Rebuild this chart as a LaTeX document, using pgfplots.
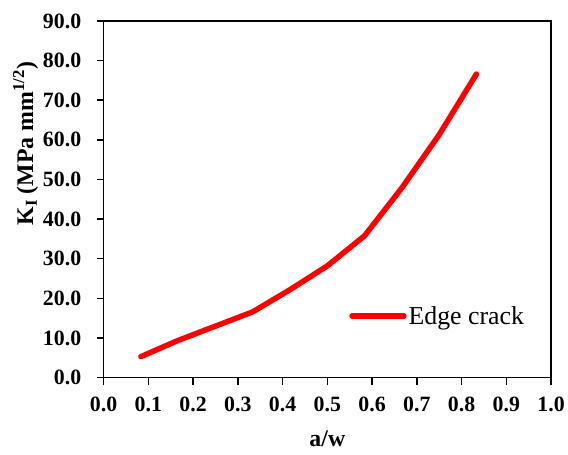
\documentclass[border=0pt]{standalone}
\usepackage{pgfplots}
\pgfplotsset{compat=1.18}
\usepackage{fontspec}
\setmainfont{Liberation Serif}
\begin{document}
\begin{tikzpicture}
\begin{axis}[
  name=ax,
  scale only axis,
  width=449bp, height=358bp,
  xmin=0, xmax=1, ymin=0, ymax=90,
  xtick={0,0.1,...,1.0}, ytick={0,10,...,90},
  axis line style={line width=1.5bp},
  tick style={line width=1.5bp, black},
  tick align=outside,
  major tick length=7bp,
  xtick pos=bottom, ytick pos=left,
  /pgf/number format/assume math mode=true,
  /pgf/number format/.cd, fixed, fixed zerofill, precision=1, /pgfplots/.cd,
  ticklabel style={font=\bfseries\fontsize{22}{24}\selectfont},
  xticklabel style={yshift=-9bp},
  yticklabel style={xshift=-12bp},
  xlabel={a/w},
  ylabel={K\textsubscript{I} (MPa mm\textsuperscript{1/2})},
  label style={font=\bfseries\fontsize{24}{26}\selectfont},
  xlabel style={yshift=-12bp},
  ylabel style={at={(ticklabel cs:0.656)}, anchor=south, yshift=-2bp},
  legend style={draw=none, fill=none, at={(rel axis cs:0.542,0.173)}, anchor=west,
    font=\fontsize{26}{28}\selectfont},
  legend image code/.code={\draw[#1, line width=5.5bp] (0bp,0bp) -- (52bp,0bp);},
]
\addplot[red, line width=5.5bp, line join=round, line cap=round] coordinates {
  (0.0833,5.3) (0.1667,9.4) (0.25,13.0) (0.3333,16.6) (0.4167,22.2)
  (0.5,28.2) (0.5833,35.8) (0.6667,47.9) (0.75,61.3) (0.8333,76.6)
};
\addlegendentry{Edge crack}
\end{axis}
\path ([yshift=21bp, xshift=-104bp]ax.north west) ([yshift=-77bp]ax.south east);
\end{tikzpicture}
\end{document}
